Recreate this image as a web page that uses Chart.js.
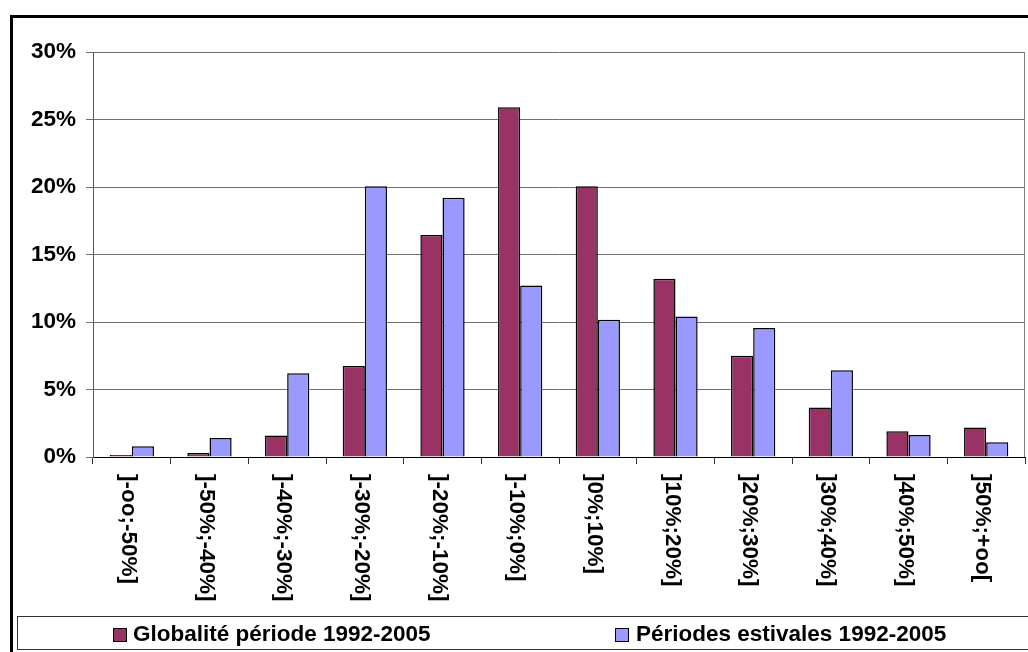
<!DOCTYPE html>
<html>
<head>
<meta charset="utf-8">
<script src="https://cdn.jsdelivr.net/npm/chart.js@4/dist/chart.umd.min.js"></script>
<style>
  html, body { margin: 0; padding: 0; background: #fff; }
  #wrap { width: 1028px; height: 652px; position: relative; }
</style>
</head>
<body>
<div id="wrap"><canvas id="c"></canvas></div>
<script>
const categories = [']-oo;-50%]', ']-50%;-40%]', ']-40%;-30%]', ']-30%;-20%]', ']-20%;-10%]', ']-10%;0%]',
  ']0%;10%]', ']10%;20%]', ']20%;30%]', ']30%;40%]', ']40%;50%]', ']50%;+oo['];
const globalite = [0.15, 0.3, 1.6, 6.75, 16.45, 25.9, 20.05, 13.2, 7.5, 3.67, 1.9, 2.18];
const estivales = [0.8, 1.4, 6.2, 20.05, 19.2, 12.7, 10.16, 10.4, 9.55, 6.43, 1.63, 1.09];
const seriesNames = ['Globalité période 1992-2005', 'Périodes estivales 1992-2005'];
const yTicks = [0, 5, 10, 15, 20, 25, 30];

const FONT = '"Liberation Sans", Arial, sans-serif';
const FSIZE = 22.5;

const decor = {
  id: 'decor',
  beforeDraw(chart) {
    const ctx = chart.ctx;
    ctx.save();
    ctx.fillStyle = '#fff';
    ctx.fillRect(0, 0, chart.width, chart.height);
    ctx.restore();
  },
  afterDraw(chart) {
    const ctx = chart.ctx;
    const area = chart.chartArea;
    const xs = chart.scales.x;
    ctx.save();
    // right border of plot area
    ctx.strokeStyle = '#808080';
    ctx.lineWidth = 1;
    ctx.beginPath();
    ctx.moveTo(Math.round(area.right) - 0.5, area.top);
    ctx.lineTo(Math.round(area.right) - 0.5, area.bottom);
    ctx.stroke();

    // rotated category labels (reading top to bottom)
    ctx.fillStyle = '#000';
    ctx.font = 'bold ' + FSIZE + 'px ' + FONT;
    ctx.textAlign = 'left';
    ctx.textBaseline = 'alphabetic';
    chart.data.labels.forEach((lab, i) => {
      const x = xs.getPixelForValue(i);
      ctx.save();
      ctx.translate(x - 10, 474);
      ctx.rotate(Math.PI / 2);
      ctx.fillText(lab, 0, 0);
      ctx.restore();
    });

    // legend box
    ctx.strokeStyle = '#333';
    ctx.lineWidth = 1;
    ctx.strokeRect(17.5, 616.5, 1020, 33);
    const items = [{x: 113, tx: 133}, {x: 615, tx: 636}];
    chart.data.datasets.forEach((ds, i) => {
      const it = items[i];
      ctx.fillStyle = ds.backgroundColor;
      ctx.fillRect(it.x, 628, 14, 14);
      ctx.strokeStyle = '#000';
      ctx.strokeRect(it.x + 0.5, 628.5, 13, 13);
      ctx.fillStyle = '#000';
      ctx.font = 'bold ' + FSIZE + 'px ' + FONT;
      ctx.textBaseline = 'alphabetic';
      ctx.fillText(ds.label, it.tx, 641);
    });

    // outer thick frame (top and left)
    ctx.fillStyle = '#000';
    ctx.fillRect(10, 15, chart.width - 10, 3);
    ctx.fillRect(10, 15, 3, chart.height - 15);
    ctx.restore();
  }
};

new Chart(document.getElementById('c'), {
  type: 'bar',
  data: {
    labels: categories,
    datasets: [
      { label: seriesNames[0], data: globalite, backgroundColor: '#993366', borderColor: '#000', borderWidth: 1.5 },
      { label: seriesNames[1], data: estivales, backgroundColor: '#9999FF', borderColor: '#000', borderWidth: 1.5 }
    ]
  },
  options: {
    responsive: true,
    maintainAspectRatio: false,
    animation: false,
    devicePixelRatio: 1,
    layout: { padding: { top: 52, right: 3, left: 0, bottom: 0 } },
    plugins: { legend: { display: false }, tooltip: { enabled: false } },
    datasets: { bar: { categoryPercentage: 0.57, barPercentage: 1.0 } },
    scales: {
      x: {
        offset: true,
        ticks: { display: false },
        grid: { offset: true, drawOnChartArea: false, drawTicks: true, tickLength: 7, color: '#333' },
        border: { display: true, color: '#000', width: 1 },
        afterFit(scale) { scale.height = 195; }
      },
      y: {
        min: 0, max: 30,
        afterBuildTicks(scale) { scale.ticks = yTicks.map(v => ({ value: v })); },
        ticks: {
          callback: v => v + '%',
          color: '#000',
          font: { family: FONT, size: FSIZE, weight: 'bold' },
          padding: 10
        },
        grid: { color: '#707070', lineWidth: 1, drawTicks: true, tickLength: 7 },
        border: { display: true, color: '#555', width: 1 },
        afterFit(scale) { scale.width = 93; }
      }
    }
  },
  plugins: [decor]
});
</script>
</body>
</html>
